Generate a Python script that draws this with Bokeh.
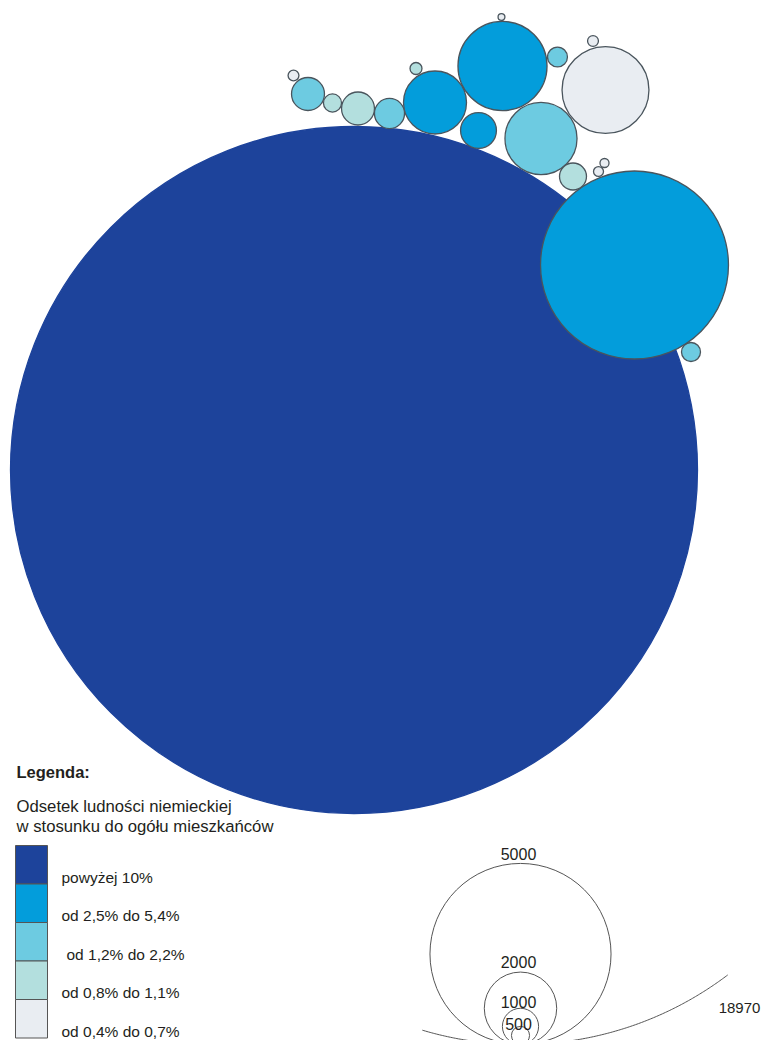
import numpy as np
from bokeh.plotting import figure
from bokeh.models import Range1d, ColumnDataSource
from bokeh.embed import file_html
from bokeh.resources import INLINE
from bokeh.core.properties import value

# ---------------- data ----------------
values = [18970, 5190, 2460, 2400, 1990, 1740, 990, 910, 910, 830,
          500, 745, 550, 525, 330, 300, 300, 275, 250, 190]
share_class = [0, 1, 1, 4, 2, 1, 1, 2, 3, 2,
               3, 3, 2, 2, 3, 4, 4, 4, 4, 4]
class_labels = ["powyżej 10%", "od 2,5% do 5,4%", " od 1,2% do 2,2%",
                "od 0,8% do 1,1%", "od 0,4% do 0,7%"]
scale_values = [5000, 2000, 1000, 500]
scale_max = 18970
title_text = "Legenda:"
subtitle_lines = ["Odsetek ludności niemieckiej", "w stosunku do ogółu mieszkańców"]

# ---------------- layout / style ----------------
palette = ["#1d439b", "#039ddb", "#6dcbe1", "#b3dfde", "#e9edf2"]
cx = [353.5, 634, 502, 605, 540.5, 434.5, 478, 307.5, 357.5, 389,
      332, 572.5, 557, 690.5, 415.5, 293, 592.5, 598, 604, 501]
cy = [469.5, 264.5, 65.5, 89.5, 138, 102, 130, 93.5, 108, 113,
      102.5, 176, 56.5, 351.5, 68, 75, 40.5, 171, 162.5, 16.5]
K = 343.5 / 18970.0          # radius (px) per person
FONT = "Liberation Sans"
TXT = "#231f20"
DY = -5.5                    # baseline correction for text rendering

W, H = 764, 1040
p = figure(width=W, height=H, x_range=Range1d(0, W), y_range=Range1d(H, 0),
           output_backend="svg", toolbar_location=None, min_border=0,
           x_axis_location=None, y_axis_location=None)
p.grid.visible = False
p.outline_line_color = None
p.background_fill_color = "white"

src = ColumnDataSource(dict(
    x=cx, y=cy, r=[v * K for v in values],
    fill=[palette[c] for c in share_class],
    lc=[palette[0] if i == 0 else "#4a555d" for i in range(len(values))],
))
p.circle(x="x", y="y", radius="r", source=src, fill_color="fill",
         line_color="lc", line_width=1.3)

# ---------------- legend: classes ----------------
sw_top = 845.0
sw_h = 38.5
tops = [sw_top + i * sw_h for i in range(len(class_labels))]
p.quad(left=15, right=47, top=tops, bottom=[t + sw_h for t in tops],
       fill_color=palette, line_color="#555555", line_width=1)
label_x = [61, 61, 66, 61, 61]
p.text(x=label_x, y=[t + sw_h - 1.5 + DY for t in tops], text=class_labels,
       text_font=value(FONT), text_font_size="15.5px", text_color=TXT,
       text_baseline="alphabetic", text_align="left")

p.text(x=[16], y=[776.7 + DY], text=[title_text], text_font=value(FONT),
       text_font_size="16.5px", text_font_style="bold", text_color=TXT,
       text_baseline="alphabetic")
p.text(x=[16, 16], y=[811.7 + DY, 831 + DY], text=subtitle_lines, text_font=value(FONT),
       text_font_size="16.7px", text_color=TXT, text_baseline="alphabetic")

# ---------------- legend: sizes ----------------
bx, by = 520.0, 1044.0
sr = [v * K for v in scale_values]
p.circle(x=[bx] * len(sr), y=[by - r for r in sr], radius=sr,
         fill_color=None, line_color="#555555", line_width=1)
gaps = [4.2, 4.3, 1.1, -3.4]
p.text(x=[518] * len(sr), y=[by - 2 * r - g + DY for r, g in zip(sr, gaps)],
       text=[str(v) for v in scale_values], text_font=value(FONT),
       text_font_size="16px", text_color=TXT, text_align="center",
       text_baseline="alphabetic")
R = scale_max * K
t = np.radians(np.linspace(52.9, 106.6, 200))
p.line(x=bx + R * np.cos(t), y=(by - R) + R * np.sin(t), line_color="#555555", line_width=1)
p.text(x=[739], y=[1012.7 + DY], text=[str(scale_max)], text_font=value(FONT),
       text_font_size="15px", text_color=TXT, text_align="center",
       text_baseline="alphabetic")

open("out.html", "w").write(file_html(p, INLINE))
